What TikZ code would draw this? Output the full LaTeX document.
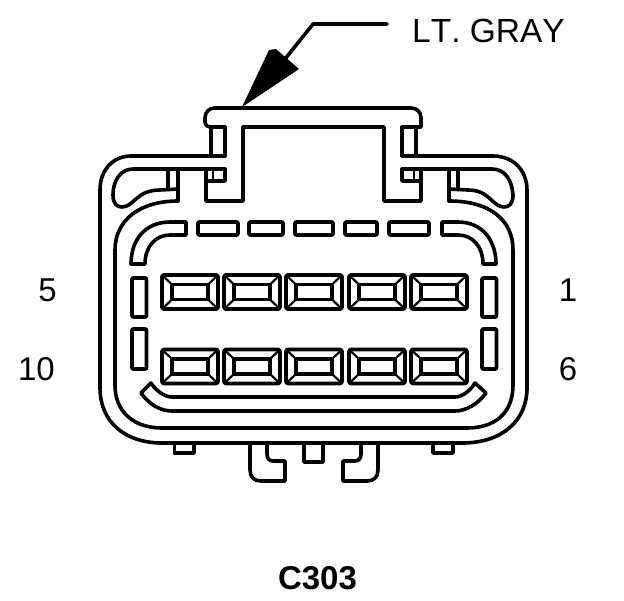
\documentclass[tikz,border=0pt]{standalone}
\usepackage{fontspec}
\setmainfont{Liberation Sans}
\begin{document}
\begin{tikzpicture}[x=1pt,y=-1pt,
  ln/.style={draw=black,line width=3.6pt,line join=round,line cap=round,fill=none},
  thin ln/.style={draw=black,line width=2.2pt,line cap=butt},
  lbl/.style={inner sep=0pt,font=\fontsize{33}{33}\selectfont,text=black},
  cavity/.pic={
    \draw[ln,rounded corners=1.5pt] (0,0) rectangle (56,34);
    \draw[ln,line join=miter] (10,9.5) rectangle (46,24.5);
    \draw[thin ln] (1,1)--(10,9.5) (55,1)--(46,9.5) (1,33)--(10,24.5) (55,33)--(46,24.5);
  }]
\useasboundingbox (0,0) rectangle (624,600);
\fill[white] (0,0) rectangle (624,600);
% leader and arrowhead
\coordinate (leadA) at (387,24);
\coordinate (leadB) at (313,24);
\coordinate (leadC) at (285,59);
\coordinate (tip) at (242,107);
\draw[ln] (leadA)--(leadB)--(leadC);
\fill[black] (tip)--(269,50)--(276,49)--(299,69)--cycle;
% outer shell
\draw[ln] (225,156)--(131,156) .. controls (113,156) and (100,170) .. (100,190)
  --(100,388) .. controls (100,422) and (125,443) .. (162,443)
  --(462,443) .. controls (503,443) and (527,420) .. (527,388)
  --(527,190) .. controls (527,170) and (513,156) .. (493,156)--(402,156);
% top tab
\draw[ln] (225,127)--(210,127) .. controls (207,127) and (205,125) .. (205,122)--(205,118)
  .. controls (205,112) and (209,108) .. (215,108)--(411,108)
  .. controls (417,108) and (421,112) .. (421,118)--(421,127)--(402,127);
\draw[ln] (211,127)--(211,156) (225,127)--(225,156) (402,127)--(402,156) (416,127)--(416,156);
% centre channel
\draw[ln] (225,169)--(225,181)--(206,181) (206,169)--(206,201)--(243,201)--(243,127)--(384,127)--(384,201)--(421,201)--(421,169)
  (402,169)--(402,181)--(421,181);
\draw[thin ln] (213,169)--(213,181) (414,169)--(414,181);
% left latch loop
\draw[ln] (225,169)--(133,169) .. controls (121,169) and (113,180) .. (113,195)
  .. controls (113,204) and (117,207) .. (122,207) .. controls (134,207) and (136,190) .. (160,190)--(178,189);
\draw[ln] (168,169)--(168,189) (178,169)--(178,201);
% right latch loop
\draw[ln] (402,169)--(492,169) .. controls (505,169) and (512,180) .. (513,195)
  .. controls (513,204) and (509,207) .. (504,207) .. controls (492,207) and (490,190) .. (468,190)--(449,189);
\draw[ln] (449,169)--(449,201) (458,169)--(458,189);
% inner wall
\draw[ln] (178,201) .. controls (140,201) and (115,220) .. (115,250)--(115,385)
  .. controls (115,413) and (135,428) .. (162,428)--(467,428)
  .. controls (495,428) and (513,413) .. (513,385)--(513,250)
  .. controls (513,220) and (490,201) .. (449,201);
% corner ribs
\draw[ln] (186,222)--(186,235)--(170,235) .. controls (155,235) and (145,247) .. (145,264)
  --(131,264) .. controls (131,240) and (145,222) .. (170,222)--cycle;
\draw[ln] (442,222)--(442,235)--(458,235) .. controls (473,235) and (483,247) .. (483,264)
  --(496,264) .. controls (496,240) and (482,222) .. (458,222)--cycle;
% top slots
\foreach \a/\b in {198/238,249/283,295/333,345/377,389/429}
  \draw[ln,rounded corners=1pt] (\a,222) rectangle (\b,235);
% side slots
\foreach \a in {132,482}{
  \draw[ln,rounded corners=1pt] (\a,278) rectangle (\a+14.5,317);
  \draw[ln,rounded corners=1pt] (\a,329) rectangle (\a+14.5,369);
}
% cavities
\foreach \a in {162,224,286,349,411}{
  \pic at (\a,275) {cavity};
  \pic at (\a,349.5) {cavity};
}
% bottom rib
\draw[ln] (151,383) .. controls (156,391) and (165,397) .. (172,397)--(455,397)
  .. controls (462,397) and (470,391) .. (475,383)--(486,393)
  .. controls (478,404) and (466,411) .. (455,411)--(172,411)
  .. controls (160,411) and (149,404) .. (141,393)--cycle;
% bottom pins
\draw[ln] (174.5,443)--(174.5,453)--(194,453)--(194,443);
\draw[ln] (433,443)--(433,453)--(453,453)--(453,443);
\draw[ln] (304,443)--(304,462)--(323,462)--(323,443);
% hooks
\draw[ln] (250,443)--(250,470) .. controls (250,477) and (254,481) .. (261,481)--(285,481)--(285,461)--(273,461)
  .. controls (269,461) and (267,458) .. (267,454)--(267,443);
\draw[ln] (378,443)--(378,470) .. controls (378,477) and (374,481) .. (367,481)--(343,481)--(343,461)--(355,461)
  .. controls (359,461) and (361,458) .. (361,454)--(361,443);
% labels
\node[lbl,anchor=west] (gray) at (412,31) {\addfontfeatures{Kerning=Off}\fontsize{33.5}{33.5}\selectfont LT. GRAY};
\node[lbl] (n5) at (47.5,290) {5};
\node[lbl] (n1) at (568,290) {1};
\node[lbl] (n10) at (36.5,369) {10};
\node[lbl] (n6) at (568,369) {6};
\node[lbl,font=\fontsize{33}{33}\selectfont\bfseries] (cname) at (317.5,578) {C303};
\end{tikzpicture}
\end{document}
